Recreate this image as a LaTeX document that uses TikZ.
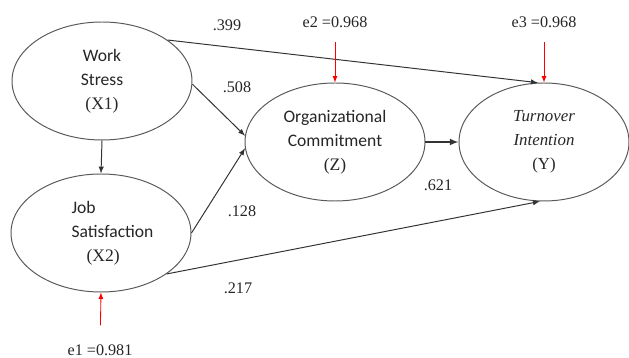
\documentclass[tikz,border=0pt]{standalone}
\usepackage{fontspec}
\setmainfont{Liberation Serif}
\setsansfont{Carlito}
\usetikzlibrary{shapes.geometric}

\tikzset{
  construct/.style={shape=ellipse, draw=black!65, line width=0.7pt, minimum width=4.5cm, minimum height=2.95cm, inner sep=1pt, align=center, text=black!85, font=\sffamily\fontsize{12.5}{17}\selectfont},
  coef/.style={text=black!85, font=\fontsize{11.5}{13}\selectfont},
  effect/.style={line width=0.7pt, draw=black!80, -latex},
  residual/.style={line width=0.6pt, draw=red, -latex, shorten <=7pt},
}

\begin{document}
\begin{tikzpicture}

\useasboundingbox (0, 0) rectangle (15.725, 8.95);

\node (workstress) [construct] at (2.55, 6.925) {Work\\Stress\\\rmfamily(X1)};

\node (jobsatisfaction) [construct, align=left] at (2.525, 3.125) {\hspace*{0.575cm}Job\\\hspace*{0.575cm}Satisfaction\\\hspace*{0.95cm}\rmfamily(X2)};

\node (commitment) [construct] at (8.375, 5.4) {Organizational\\Commitment\\\rmfamily(Z)};

\node (turnover) [construct, minimum width=4.25cm, font=\rmfamily\itshape\fontsize{12}{17}\selectfont] at (13.6, 5.4) {Turnover\\Intention\\\upshape(Y)};


\node (e1) [coef] at (2.5, 0.2) {e1 =0.981};
\node (e2) [coef] at (8.375, 8.4) {e2 =0.968};
\node (e3) [coef] at (13.6, 8.4) {e3 =0.968};

\node (b399) [coef] at (5.675, 8.325) {.399};
\node (b508) [coef] at (5.925, 6.775) {.508};
\node (b128) [coef] at (6.05, 3.675) {.128};
\node (b217) [coef] at (5.95, 1.75) {.217};
\node (b621) [coef] at (10.95, 4.325) {.621};


\draw (workstress.south) edge[effect] (jobsatisfaction.north);
\draw (workstress.32) edge[effect] (turnover.96);
\draw (workstress.-2) edge[effect] (commitment.176);
\draw (jobsatisfaction.east) edge[effect] (commitment.184);
\draw (jobsatisfaction.-32) edge[effect] (turnover.-94);
\draw (commitment.east) edge[effect, line width=1.1pt] (turnover.west);

\draw (e1) edge[residual, shorten <=10pt] (jobsatisfaction.south);
\draw (e2) edge[residual] (commitment.north);
\draw (e3) edge[residual] (turnover.north);

\end{tikzpicture}
\end{document}
